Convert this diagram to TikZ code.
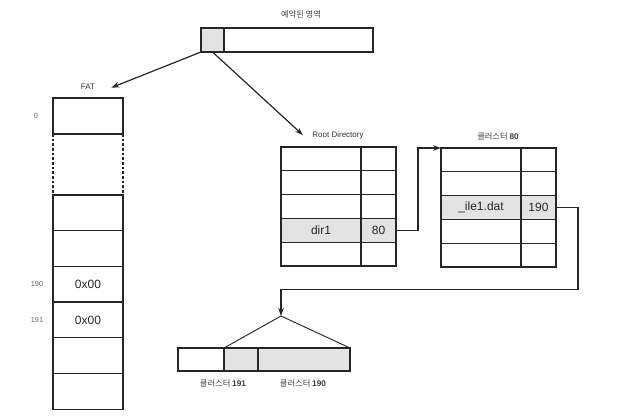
\documentclass[tikz,border=0pt]{standalone}
\usepackage{fontspec}
\setmainfont{Liberation Sans}
\newfontfamily\krfont{Noto Sans CJK KR}
\usetikzlibrary{arrows.meta,calc}

\newcommand{\clnum}[1]{{\rmfamily\bfseries #1}}

\begin{document}
\begin{tikzpicture}[
    x=0.75pt, y=-0.75pt,
    >={Stealth[length=6pt,width=4.2pt]},
    font=\fontsize{9}{10}\selectfont,
    arr/.style={->, line width=0.9pt, draw=black!85},
    line/.style={line width=0.7pt, draw=black!85},
    cell/.style={draw=black!85, line width=0.9pt, inner sep=0pt, outer sep=0pt, minimum height=17.85pt, text=black!85},
    fcell/.style={cell, minimum width=52.5pt, minimum height=26.8pt},
    ncell/.style={cell, minimum width=60pt},
    vcell/.style={cell, minimum width=26.25pt},
    bcell/.style={cell, minimum height=17.25pt},
    shade/.style={fill=gray!22},
    lbl/.style={font=\fontsize{6}{7}\selectfont, text=black!80, inner sep=1pt},
    klbl/.style={font=\krfont\fontsize{6.2}{7}\selectfont, text=black!75, inner sep=1pt},
    idx/.style={font=\fontsize{5.5}{6.5}\selectfont, text=black!60, inner sep=1pt}
]
\useasboundingbox (0,0) rectangle (638,416);

% =========================================================
% RESERVED AREA
% =========================================================
\node[klbl] (reslbl) at (301,14) {예약된 영역};
\node[cell, shade, minimum width=17.25pt, minimum height=18pt] (res0) at (212.5,40) {};
\node[cell, minimum width=111.75pt, minimum height=18pt, anchor=west] (res1) at (res0.east) {};

% =========================================================
% FAT
% =========================================================
\node[lbl] (fatlbl) at (88,87) {FAT};
\node[fcell, minimum height=27pt] (fat0) at (88,116) {};
\foreach \i/\txt in {1/{},2/{},3/0x00,4/0x00,5/{},6/{}}
    \node[fcell] (fat\i) at (88,{195+35.7*(\i-0.5)}) {\txt};

\draw[line, line width=0.9pt, dash pattern=on 2pt off 1.5pt] (fat0.south west) -- (fat1.north west);
\draw[line, line width=0.9pt, dash pattern=on 2pt off 1.5pt] (fat0.south east) -- (fat1.north east);

\node[idx] (idx0) at (36,116) {0};
\node[idx] (idx190) at (37,284) {190};
\node[idx] (idx191) at (37,320) {191};

% =========================================================
% ROOT DIRECTORY
% =========================================================
\node[lbl] (rootlbl) at (338,135) {Root Directory};
\foreach \i in {1,2,3,5} {
    \node[ncell] (r\i n) at (321,{147+23.8*(\i-0.5)}) {};
    \node[vcell] (r\i v) at (378.5,{147+23.8*(\i-0.5)}) {};
}
\node[ncell, shade] (r4n) at (321,{147+23.8*3.5}) {dir1};
\node[vcell, shade] (r4v) at (378.5,{147+23.8*3.5}) {80};

% =========================================================
% CLUSTER 80
% =========================================================
\node[klbl] (c80lbl) at (498,136) {클러스터 \clnum{80}};
\foreach \i in {1,2,4,5} {
    \node[ncell] (c\i n) at (481,{148+23.8*(\i-0.5)}) {};
    \node[vcell] (c\i v) at (538.5,{148+23.8*(\i-0.5)}) {};
}
\node[ncell, shade] (c3n) at (481,{148+23.8*2.5}) {\_ile1.dat};
\node[vcell, shade] (c3v) at (538.5,{148+23.8*2.5}) {190};

% =========================================================
% DATA CLUSTERS
% =========================================================
\node[bcell, minimum width=34.5pt] (b1) at (201,359.5) {};
\node[bcell, shade, minimum width=25.5pt] (b2) at (241,359.5) {};
\node[bcell, shade, minimum width=69pt] (b3) at (304,359.5) {};
\coordinate (apex) at (281,316);

\node[klbl] (b191lbl) at (223,383) {클러스터 \clnum{191}};
\node[klbl] (b190lbl) at (303,383) {클러스터 \clnum{190}};

% ------------------- CONNECTORS -------------------
\draw[arr] (res0.south west) -- ([xshift=11pt,yshift=-0.5pt]fatlbl.east);
\draw[arr] (res0.south) -- ([xshift=-6pt]rootlbl.west);

\draw[arr] (r4v.east) -- ++(22,0) |- (c1n.north west);
\draw[arr] (c3v.east) -- ++(22,0) -- ++(0,82) -| (apex);

\draw[line] (apex) -- (b2.north west);
\draw[line] (apex) -- (b3.north east);

\end{tikzpicture}
\end{document}
